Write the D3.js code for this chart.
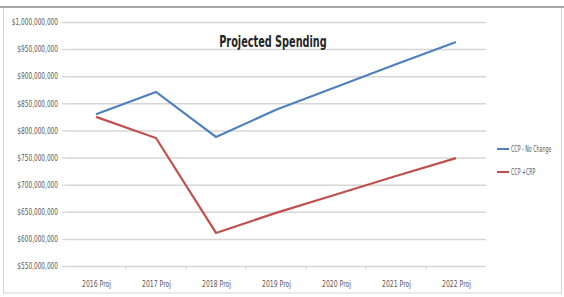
<!DOCTYPE html>
<html>
<head>
<meta charset="utf-8">
<script src="https://cdn.jsdelivr.net/npm/d3@7"></script>
<style>
  body { margin: 0; background: #fff; }
  text { font-family: "Liberation Sans Narrow", "DejaVu Sans Condensed", "Liberation Sans", sans-serif; }
</style>
</head>
<body>
<svg id="drawing" width="564" height="297"></svg>
<script>
(function () {
    const years = ["2016 Proj", "2017 Proj", "2018 Proj", "2019 Proj", "2020 Proj", "2021 Proj", "2022 Proj"]
    const noChange = [830, 871, 788, 838, 880, 922, 963]   // millions
    const ccpCrp = [825, 786, 611, 648, 682, 716, 749]
    const yTicks = [550, 600, 650, 700, 750, 800, 850, 900, 950, 1000]
    const seriesNames = ["CCP - No Change", "CCP +CRP"]
    const colors = ["#4f81bd", "#c0504d"]

    const margin = { top: 22, right: 78, bottom: 31, left: 66 }
    const width = 564
    const height = 297

    const svg = d3.select("#drawing")

    // squeeze text to look like a narrow font
    function narrow(sel, k) {
        sel.each(function () {
            const w = this.getComputedTextLength()
            d3.select(this)
                .attr("textLength", w * k)
                .attr("lengthAdjust", "spacingAndGlyphs")
        })
    }

    // outer chart border
    svg.append("rect")
        .attr("x", 3.5).attr("y", 7)
        .attr("width", 558).attr("height", 286)
        .attr("fill", "none")
        .attr("stroke", "#d4d4d4")
    svg.append("line")
        .attr("x1", 0).attr("x2", 564)
        .attr("y1", 7).attr("y2", 7)
        .attr("stroke", "#a6a6a6")
        .attr("stroke-width", 2)

    const x = d3.scalePoint()
        .domain(years)
        .range([margin.left, width - margin.right])
        .padding(0.5)

    const xBand = d3.scaleBand()
        .domain(years)
        .range([margin.left, width - margin.right])

    const y = d3.scaleLinear()
        .domain([550, 1000])
        .range([height - margin.bottom, margin.top])

    const fmt = v => "$" + d3.format(",")(v * 1000000)

    // y axis + gridlines
    svg.append("g")
        .attr("transform", `translate(${margin.left},0)`)
        .call(d3.axisLeft(y).tickValues(yTicks).tickFormat(fmt).tickSize(4).tickPadding(4))
        .call(g => g.select(".domain").remove())
        .call(g => g.selectAll(".tick line").attr("stroke", "#d0d0d0"))
        .call(g => g.selectAll(".tick line").clone()
            .attr("x2", width - margin.right - margin.left)
            .attr("stroke", "#d6d6d6")
            .attr("stroke-width", 1.5))
        .call(g => g.selectAll(".tick text")
            .attr("fill", "#595959")
            .attr("font-size", 8.5)
            .call(narrow, 0.76))

    // x axis
    const xAxisG = svg.append("g")
        .attr("transform", `translate(0,${height - margin.bottom})`)
        .call(d3.axisBottom(x).tickSize(0).tickPadding(15))
        .call(g => g.select(".domain").remove())
        .call(g => g.selectAll(".tick text")
            .attr("fill", "#595959")
            .attr("font-size", 8.5)
            .call(narrow, 0.8))

    xAxisG.selectAll(".bandtick")
        .data(years.slice(1))
        .join("line")
        .attr("x1", d => xBand(d)).attr("x2", d => xBand(d))
        .attr("y1", 0).attr("y2", 4)
        .attr("stroke", "#d0d0d0")

    const line = d3.line()
        .x((d, i) => x(years[i]))
        .y(d => y(d))

    svg.selectAll(".series")
        .data([noChange, ccpCrp])
        .join("path")
        .attr("class", "series")
        .attr("d", line)
        .attr("fill", "none")
        .attr("stroke", (d, i) => colors[i])
        .attr("stroke-width", 2.2)
        .attr("stroke-linejoin", "miter")

    // title
    svg.append("text")
        .attr("x", 273)
        .attr("y", 47)
        .attr("text-anchor", "middle")
        .attr("font-size", 15)
        .attr("font-weight", "bold")
        .attr("fill", "#262626")
        .text("Projected Spending")
        .call(narrow, 0.72)

    // legend
    const legend = svg.append("g")
        .selectAll("g")
        .data(seriesNames)
        .join("g")
        .attr("transform", (d, i) => `translate(497,${149 + i * 23})`)

    legend.append("line")
        .attr("x1", 0).attr("x2", 12)
        .attr("stroke", (d, i) => colors[i])
        .attr("stroke-width", 2)
    legend.append("text")
        .attr("x", 14)
        .attr("dy", "0.35em")
        .attr("font-size", 8)
        .attr("fill", "#595959")
        .text(d => d)
        .call(narrow, 0.66)
}).call(this);
</script>
</body>
</html>
